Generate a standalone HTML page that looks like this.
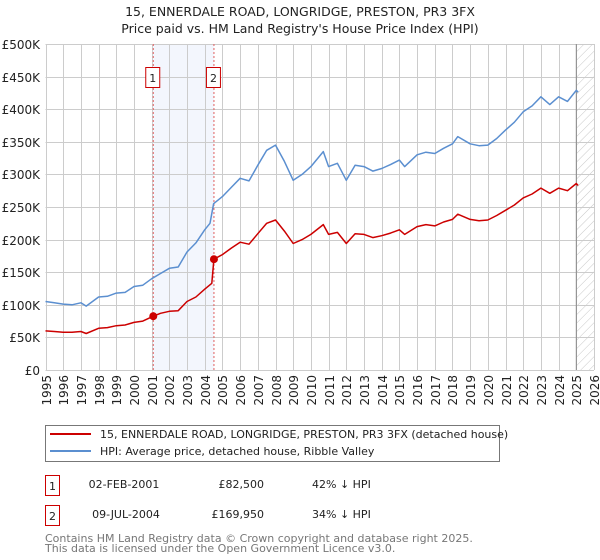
<!DOCTYPE html>
<html><head><meta charset="utf-8">
<style>
body{margin:0;background:#fff;}
svg{display:block;font-family:"DejaVu Sans","Liberation Sans",sans-serif;}
</style></head>
<body>
<svg id="chart" width="600" height="560" viewBox="0 0 600 560">
<defs>
<pattern id="hatch" width="6" height="6" patternUnits="userSpaceOnUse" patternTransform="rotate(45)">
<line x1="0" y1="0" x2="0" y2="6" stroke="#c8c8c8" stroke-width="1"/>
</pattern>
</defs>
<text x="300" y="16" text-anchor="middle" font-size="12.5" fill="#222">15, ENNERDALE ROAD, LONGRIDGE, PRESTON, PR3 3FX</text>
<text x="300" y="33" text-anchor="middle" font-size="12.5" fill="#222">Price paid vs. HM Land Registry's House Price Index (HPI)</text>
<g id="grid"></g>
<g id="marks"></g>
<g id="axes"></g>

<g>
<rect x="45.5" y="425.5" width="454" height="36" fill="#fff" stroke="#777"/>
<line x1="50" y1="434" x2="91" y2="434" stroke="#cc0000" stroke-width="2"/>
<text x="100" y="438" font-size="11" fill="#222">15, ENNERDALE ROAD, LONGRIDGE, PRESTON, PR3 3FX (detached house)</text>
<line x1="50" y1="451" x2="91" y2="451" stroke="#5b8fd0" stroke-width="2"/>
<text x="100" y="455" font-size="11" fill="#222">HPI: Average price, detached house, Ribble Valley</text>
</g>

<g>
<rect x="45.5" y="475.5" width="14" height="20" fill="#fff" stroke="#cc0000"/>
<text x="52.5" y="490" text-anchor="middle" font-size="11" fill="#222">1</text>
<text x="124" y="488" text-anchor="middle" font-size="11" fill="#222">02-FEB-2001</text>
<text x="264" y="488" text-anchor="end" font-size="11" fill="#222">£82,500</text>
<text x="312" y="488" font-size="11" fill="#222">42% ↓ HPI</text>
<rect x="45.5" y="505.5" width="14" height="20" fill="#fff" stroke="#cc0000"/>
<text x="52.5" y="520" text-anchor="middle" font-size="11" fill="#222">2</text>
<text x="126" y="518" text-anchor="middle" font-size="11" fill="#222">09-JUL-2004</text>
<text x="264" y="518" text-anchor="end" font-size="11" fill="#222">£169,950</text>
<text x="312" y="518" font-size="11" fill="#222">34% ↓ HPI</text>
</g>
<text x="45" y="542" font-size="11" fill="#777">Contains HM Land Registry data © Crown copyright and database right 2025.</text>
<text x="45" y="552" font-size="11" fill="#777">This data is licensed under the Open Government Licence v3.0.</text>
</svg>
<script>
const years = [1995,1996,1997,1998,1999,2000,2001,2002,2003,2004,2005,2006,2007,2008,2009,2010,2011,2012,2013,2014,2015,2016,2017,2018,2019,2020,2021,2022,2023,2024,2025,2026];
const yTicks = [0,50000,100000,150000,200000,250000,300000,350000,400000,450000,500000];
const yTickLabels = ["£0","£50K","£100K","£150K","£200K","£250K","£300K","£350K","£400K","£450K","£500K"];
const hpiTimes = [1995,1995.5,1996,1996.5,1997,1997.3,1998,1998.5,1999,1999.5,2000,2000.5,2001,2001.5,2002,2002.5,2003,2003.5,2004,2004.3,2004.5,2005,2005.5,2006,2006.5,2007,2007.5,2008,2008.5,2009,2009.5,2010,2010.7,2011,2011.5,2012,2012.5,2013,2013.5,2014,2014.5,2015,2015.3,2016,2016.5,2017,2017.5,2018,2018.3,2019,2019.5,2020,2020.5,2021,2021.5,2022,2022.5,2023,2023.5,2024,2024.5,2025,2025.1];
const hpiValues = [105000,103000,101000,100000,103000,98000,112000,113000,118000,119000,128000,130000,140000,148000,156000,158000,181000,195000,215000,225000,255000,266000,280000,294000,290000,314000,337000,345000,320000,291000,300000,312000,335000,312000,317000,291000,314000,312000,305000,309000,315000,322000,312000,330000,334000,332000,340000,347000,358000,347000,344000,345000,355000,368000,380000,396000,405000,419000,407000,419000,412000,429000,426000];
const redTimes = [1995,1995.5,1996,1996.5,1997,1997.3,1998,1998.5,1999,1999.5,2000,2000.5,2001.09,2001.5,2002,2002.5,2003,2003.5,2004,2004.4,2004.52,2005,2005.5,2006,2006.5,2007,2007.5,2008,2008.5,2009,2009.5,2010,2010.7,2011,2011.5,2012,2012.5,2013,2013.5,2014,2014.5,2015,2015.3,2016,2016.5,2017,2017.5,2018,2018.3,2019,2019.5,2020,2020.5,2021,2021.5,2022,2022.5,2023,2023.5,2024,2024.5,2025,2025.1];
const redValues = [60000,59000,58000,58000,59000,56000,64000,65000,68000,69000,73000,75000,82500,87000,90000,91000,105000,112000,124000,133000,170000,177000,187000,196000,193000,209000,225000,230000,213000,194000,200000,208000,223000,208000,211000,194000,209000,208000,203000,206000,210000,215000,208000,220000,223000,221000,227000,231000,239000,231000,229000,230000,237000,245000,253000,264000,270000,279000,271000,279000,275000,286000,283000];
const saleTimes = [2001.09,2004.52];
const salePrices = [82500,169950];
const saleLabels = ["1","2"];
const dataEndTime = 2025.0;

const NS="http://www.w3.org/2000/svg";
const X0=45.5, X1=594, Y0=370, Y1=44;
function xs(t){return X0+(t-1995)/(2026-1995)*(X1-X0);}
function ys(v){return Y0-v/500000*(Y0-Y1);}
function mk(tag,attrs,parent){const e=document.createElementNS(NS,tag);for(const k in attrs)e.setAttribute(k,attrs[k]);parent.appendChild(e);return e;}
const grid=document.getElementById('grid'), marks=document.getElementById('marks'), axes=document.getElementById('axes');

let band=mk('rect',{x:xs(saleTimes[0]),y:Y1,width:xs(saleTimes[1])-xs(saleTimes[0]),height:Y0-Y1,fill:'#f3f6fd'},grid);


let hatch=mk('rect',{x:xs(dataEndTime),y:Y1,width:X1-xs(dataEndTime),height:Y0-Y1,fill:'url(#hatch)'},grid);



yTicks.forEach((v,i)=>{
  const y=Math.round(ys(v))+0.5;
  let l=mk('line',{x1:X0,x2:X1,y1:y,y2:y,stroke:'#cccccc','stroke-width':1},grid);
  
  
  let t=mk('text',{x:40,y:y+4.5,'text-anchor':'end','font-size':12,fill:'#222'},axes);
  t.textContent=yTickLabels[i];
  
  
});
years.forEach(yr=>{
  const x=Math.round(xs(yr))+0.5;
  let l=mk('line',{x1:x,x2:x,y1:Y1,y2:Y0,stroke:'#cccccc','stroke-width':1},grid);
  
  
  let t=mk('text',{x:0,y:0,'text-anchor':'end','font-size':12,fill:'#222',transform:`translate(${x+4.5},${Y0+5}) rotate(-90)`},axes);
  t.textContent=yr;
  
  
});
let endLine=mk('line',{x1:xs(dataEndTime),x2:xs(dataEndTime),y1:Y1,y2:Y0,stroke:'#888','stroke-width':1},grid);



saleTimes.forEach((t,i)=>{
  let l=mk('line',{x1:xs(t),x2:xs(t),y1:Y1,y2:Y0,stroke:'#e06060','stroke-width':1,'stroke-dasharray':'2,2'},marks);
  
  
});

function path(ts,vs){return ts.map((t,i)=>(i?'L':'M')+xs(t).toFixed(1)+','+ys(vs[i]).toFixed(1)).join(' ');}
let hp=mk('path',{d:path(hpiTimes,hpiValues),fill:'none',stroke:'#5b8fd0','stroke-width':1.5,'stroke-linejoin':'round'},marks);


let rp=mk('path',{d:path(redTimes,redValues),fill:'none',stroke:'#cc0000','stroke-width':1.5,'stroke-linejoin':'round'},marks);



saleTimes.forEach((t,i)=>{
  let c=mk('circle',{cx:xs(t),cy:ys(salePrices[i]),r:4,fill:'#cc0000'},marks);
  
  
  const bx=xs(t)-7;
  let r=mk('rect',{x:bx-0.5,y:67.5,width:14,height:20,fill:'#fff',stroke:'#cc0000'},marks);
  
  
  let tx=mk('text',{x:xs(t)-0.5,y:82,'text-anchor':'middle','font-size':11,fill:'#222'},marks);
  tx.textContent=saleLabels[i];
  
  
});
</script>
</body></html>
